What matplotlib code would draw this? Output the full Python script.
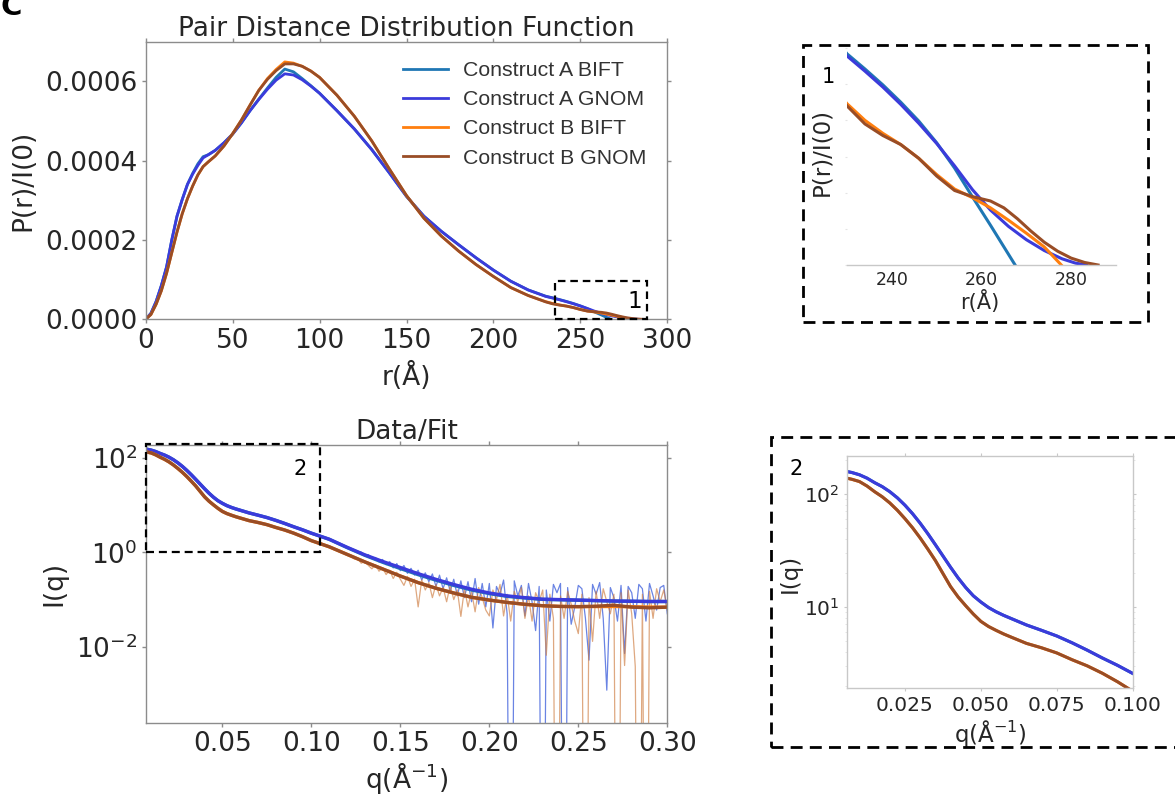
import numpy as np
import matplotlib
matplotlib.use("Agg")
import matplotlib.pyplot as plt
from matplotlib.patches import Rectangle
from matplotlib.ticker import FormatStrFormatter, NullLocator, LogLocator, NullFormatter

# ---------------- P(r) data ----------------
r_body = [0, 3, 6, 9, 12, 15, 18, 21, 24, 27, 30, 33, 36, 40, 45, 50, 55, 60, 65, 70,
          75, 80, 85, 90, 95, 100, 110, 120, 130, 140, 150, 160, 170, 180, 190, 200, 210, 220]

a_gnom_body = [0, 1.5e-5, 4.5e-5, 8.5e-5, 1.32e-4, 2.0e-4, 2.6e-4, 3.02e-4, 3.40e-4, 3.66e-4,
               3.88e-4, 4.07e-4, 4.15e-4, 4.26e-4, 4.45e-4, 4.67e-4, 4.95e-4, 5.26e-4, 5.54e-4, 5.80e-4,
               6.03e-4, 6.19e-4, 6.16e-4, 6.04e-4, 5.88e-4, 5.70e-4, 5.26e-4, 4.80e-4, 4.28e-4, 3.70e-4,
               3.10e-4, 2.60e-4, 2.22e-4, 1.88e-4, 1.55e-4, 1.24e-4, 9.6e-5, 7.4e-5]
a_bift_body = [0, 1.5e-5, 4.5e-5, 8.5e-5, 1.32e-4, 2.0e-4, 2.6e-4, 3.02e-4, 3.40e-4, 3.68e-4,
               3.92e-4, 4.10e-4, 4.15e-4, 4.26e-4, 4.45e-4, 4.67e-4, 4.95e-4, 5.26e-4, 5.55e-4, 5.83e-4,
               6.10e-4, 6.31e-4, 6.24e-4, 6.07e-4, 5.89e-4, 5.70e-4, 5.26e-4, 4.80e-4, 4.28e-4, 3.70e-4,
               3.10e-4, 2.60e-4, 2.22e-4, 1.88e-4, 1.55e-4, 1.24e-4, 9.6e-5, 7.4e-5]
b_gnom_body = [0, 1.2e-5, 3.8e-5, 7.2e-5, 1.16e-4, 1.68e-4, 2.20e-4, 2.66e-4, 3.04e-4, 3.36e-4,
               3.64e-4, 3.85e-4, 3.97e-4, 4.12e-4, 4.37e-4, 4.68e-4, 5.02e-4, 5.40e-4, 5.77e-4, 6.05e-4,
               6.27e-4, 6.44e-4, 6.44e-4, 6.38e-4, 6.26e-4, 6.10e-4, 5.65e-4, 5.12e-4, 4.50e-4, 3.80e-4,
               3.12e-4, 2.55e-4, 2.10e-4, 1.72e-4, 1.38e-4, 1.08e-4, 8.0e-5, 6.0e-5]
b_bift_body = [0, 1.2e-5, 3.8e-5, 7.2e-5, 1.16e-4, 1.68e-4, 2.20e-4, 2.66e-4, 3.04e-4, 3.36e-4,
               3.64e-4, 3.85e-4, 3.97e-4, 4.12e-4, 4.37e-4, 4.68e-4, 5.02e-4, 5.40e-4, 5.77e-4, 6.07e-4,
               6.30e-4, 6.49e-4, 6.46e-4, 6.38e-4, 6.26e-4, 6.10e-4, 5.65e-4, 5.12e-4, 4.50e-4, 3.80e-4,
               3.12e-4, 2.55e-4, 2.10e-4, 1.72e-4, 1.38e-4, 1.08e-4, 8.0e-5, 6.0e-5]

a_bift_tail_r = [230, 234, 238, 242, 246, 250, 254, 258, 262, 265, 267.5]
a_bift_tail_p = [5.84e-5, 5.42e-5, 4.98e-5, 4.50e-5, 3.98e-5, 3.38e-5, 2.68e-5, 1.88e-5, 1.10e-5,
                 5.0e-6, 0]
a_gnom_tail_r = [230, 234, 238, 242, 246, 250, 254, 258, 262, 266, 270, 274, 278, 281, 283.5]
a_gnom_tail_p = [5.78e-5, 5.36e-5, 4.92e-5, 4.44e-5, 3.92e-5, 3.36e-5, 2.74e-5, 2.08e-5, 1.52e-5,
                 1.07e-5, 7.0e-6, 4.0e-6, 1.7e-6, 5e-7, 0]
b_bift_tail_r = [230, 234, 238, 242, 246, 250, 254, 258, 262, 266, 270, 274, 277.8]
b_bift_tail_p = [4.46e-5, 4.00e-5, 3.64e-5, 3.33e-5, 2.95e-5, 2.50e-5, 2.10e-5, 1.86e-5, 1.58e-5,
                 1.24e-5, 8.8e-6, 5.0e-6, 0]
b_gnom_tail_r = [230, 234, 238, 242, 246, 250, 254, 258, 262, 265, 268, 271, 274, 277, 280, 283, 286]
b_gnom_tail_p = [4.40e-5, 3.90e-5, 3.58e-5, 3.33e-5, 2.95e-5, 2.46e-5, 2.06e-5, 1.89e-5, 1.77e-5,
                 1.58e-5, 1.28e-5, 9.4e-6, 6.3e-6, 3.8e-6, 1.9e-6, 7e-7, 0]

labels = ["Construct A BIFT", "Construct A GNOM", "Construct B BIFT", "Construct B GNOM"]

# ---------------- I(q) fits ----------------
q_fit = [0.006, 0.0075, 0.010, 0.0125, 0.015, 0.0175, 0.020, 0.0225, 0.025, 0.0275,
         0.030, 0.0325, 0.035, 0.0375, 0.040, 0.0425, 0.045, 0.0475, 0.050, 0.0525,
         0.055, 0.0575, 0.060, 0.065, 0.070, 0.075, 0.080, 0.085, 0.090, 0.095,
         0.100, 0.110, 0.120, 0.130, 0.140, 0.150, 0.160, 0.170, 0.180, 0.190,
         0.200, 0.210, 0.220, 0.230, 0.240, 0.250, 0.260, 0.270, 0.280, 0.290,
         0.300]
a_gnom_fit = [157.8, 154.9, 147.9, 138.0, 125.9, 116.1, 104.7, 92.3, 79.4, 66.8,
              55.0, 44.5, 35.5, 28.2, 22.4, 18.0, 14.8, 12.5, 11.0, 9.84,
              9.02, 8.38, 7.85, 6.89, 6.17, 5.50, 4.79, 4.12, 3.51, 3.02,
              2.56, 1.91, 1.29, 0.891, 0.646, 0.479, 0.355, 0.269, 0.209, 0.166,
              0.138, 0.120, 0.110, 0.102, 0.100, 0.0977, 0.0955, 0.0933, 0.0923, 0.0912,
              0.0912]
a_bift_fit = [157.8, 154.9, 147.9, 138.0, 125.9, 116.1, 104.7, 92.3, 79.4, 66.8,
              55.0, 44.5, 35.5, 28.2, 22.4, 18.0, 14.8, 12.5, 11.0, 9.84,
              9.02, 8.38, 7.85, 6.89, 6.17, 5.50, 4.79, 4.12, 3.51, 3.02,
              2.56, 1.90, 1.27, 0.870, 0.620, 0.455, 0.338, 0.258, 0.200, 0.160,
              0.134, 0.117, 0.108, 0.101, 0.099, 0.0970, 0.0950, 0.0930, 0.0920, 0.0910,
              0.0910]
b_gnom_fit = [137.7, 134.9, 128.8, 117.5, 104.7, 94.4, 83.2, 71.6, 60.3, 50.1,
              40.7, 32.5, 25.7, 19.7, 15.1, 12.2, 10.2, 8.61, 7.41, 6.68,
              6.17, 5.73, 5.37, 4.73, 4.32, 3.89, 3.39, 2.99, 2.57, 2.16,
              1.78, 1.32, 0.912, 0.631, 0.447, 0.316, 0.229, 0.174, 0.138, 0.112,
              0.0977, 0.0871, 0.0794, 0.0741, 0.0716, 0.0708, 0.0724, 0.0759, 0.0692, 0.0668,
              0.0692]
b_bift_fit = [137.7, 134.9, 128.8, 117.5, 104.7, 94.4, 83.2, 71.6, 60.3, 50.1,
              40.7, 32.5, 25.7, 19.7, 15.1, 12.2, 10.2, 8.61, 7.41, 6.68,
              6.17, 5.73, 5.37, 4.73, 4.32, 3.89, 3.39, 2.99, 2.57, 2.16,
              1.78, 1.32, 0.912, 0.631, 0.447, 0.316, 0.229, 0.174, 0.138, 0.112,
              0.0977, 0.0871, 0.0794, 0.0741, 0.0716, 0.0710, 0.0712, 0.0715, 0.0705, 0.0695,
              0.0690]

# ---------------- I(q) measured data ----------------
q_data = [0.100, 0.102, 0.104, 0.106, 0.108, 0.110, 0.112, 0.114, 0.116, 0.118,
          0.120, 0.122, 0.124, 0.126, 0.128, 0.130, 0.132, 0.134, 0.136, 0.138,
          0.140, 0.142, 0.144, 0.146, 0.148, 0.150, 0.152, 0.154, 0.156, 0.158,
          0.160, 0.162, 0.164, 0.166, 0.168, 0.170, 0.172, 0.174, 0.176, 0.178,
          0.180, 0.182, 0.184, 0.186, 0.188, 0.190, 0.192, 0.194, 0.196, 0.198,
          0.200, 0.202, 0.204, 0.206, 0.208, 0.210, 0.212, 0.214, 0.216, 0.218,
          0.220, 0.222, 0.224, 0.226, 0.228, 0.230, 0.232, 0.234, 0.236, 0.238,
          0.240, 0.242, 0.244, 0.246, 0.248, 0.250, 0.252, 0.254, 0.256, 0.258,
          0.260, 0.262, 0.264, 0.266, 0.268, 0.270, 0.272, 0.274, 0.276, 0.278,
          0.280, 0.282, 0.284, 0.286, 0.288, 0.290, 0.292, 0.294, 0.296, 0.298,
          0.300]
a_data = [2.58, 2.44, 2.27, 2.16, 2.02, 1.90, 1.80, 1.61, 1.56, 1.37,
          1.33, 1.16, 1.15, 0.98, 1.02, 0.84, 0.90, 0.74, 0.78, 0.63,
          0.71, 0.55, 0.64, 0.47, 0.58, 0.41, 0.53, 0.36, 0.46, 0.33,
          0.42, 0.26, 0.37, 0.24, 0.35, 0.19, 0.33, 0.17, 0.29, 0.15,
          0.27, 0.12, 0.25, 0.11, 0.24, 0.09, 0.28, 0.08, 0.22, 0.07,
          0.22, 0.025, 0.19, 0.13, 0.26, 0.05, 1e-12, 0.25, 0.12, 0.20,
          0.045, 0.22, 0.09, 0.022, 0.19, 1e-12, 0.16, 0.035, 0.21, 0.14,
          0.22, 1e-12, 0.18, 0.03, 0.07, 0.20, 0.17, 0.04, 0.0052, 0.21,
          0.13, 0.23, 0.04, 0.0012, 0.18, 0.11, 0.035, 0.20, 0.0072, 0.19,
          0.14, 0.04, 0.21, 0.17, 0.035, 0.22, 0.12, 0.06, 0.18, 0.20,
          0.05]
b_data = [1.76, 1.70, 1.55, 1.53, 1.38, 1.34, 1.20, 1.18, 1.02, 1.00,
          0.87, 0.89, 0.73, 0.75, 0.59, 0.65, 0.53, 0.45, 0.55, 0.40,
          0.47, 0.34, 0.42, 0.28, 0.38, 0.27, 0.20, 0.31, 0.19, 0.27,
          0.07, 0.26, 0.16, 0.23, 0.11, 0.21, 0.12, 0.18, 0.09, 0.20,
          0.10, 0.16, 0.044, 0.17, 0.07, 0.15, 0.055, 0.18, 0.11, 0.06,
          0.045, 0.16, 0.10, 0.21, 0.045, 0.13, 0.035, 0.15, 0.09, 0.18,
          0.04, 0.12, 0.035, 0.14, 0.09, 0.16, 0.0066, 0.13, 0.04, 1e-12,
          0.12, 0.04, 0.15, 0.08, 0.035, 0.019, 0.13, 1e-12, 0.11, 0.013,
          0.15, 0.04, 0.17, 0.09, 0.05, 0.13, 1e-12, 0.14, 0.004, 0.16,
          0.05, 0.0038, 1e-12, 0.13, 1e-12, 0.15, 0.04, 0.17, 0.09, 0.16,
          0.06]

# ---------------- styling ----------------
C_A_BIFT = "#1f77b4"
C_A_GNOM = "#3b3bdb"
C_B_BIFT = "#ff7f0e"
C_B_GNOM = "#994d26"
C_A_DATA = "#4565dd"
C_B_DATA = "#cd7a3d"
TXT = "#262626"
SPINE = "#8c8c8c"
LIGHT = "#c8c8c8"

W, H = 1175, 796
fig = plt.figure(figsize=(W / 100, H / 100), dpi=100)


def px_rect(left, top, right, bottom):
    return [left / W, 1 - bottom / H, (right - left) / W, (bottom - top) / H]


pr_curves = [
    (labels[0], C_A_BIFT, np.concatenate([r_body, a_bift_tail_r]), np.concatenate([a_bift_body, a_bift_tail_p])),
    (labels[1], C_A_GNOM, np.concatenate([r_body, a_gnom_tail_r]), np.concatenate([a_gnom_body, a_gnom_tail_p])),
    (labels[2], C_B_BIFT, np.concatenate([r_body, b_bift_tail_r]), np.concatenate([b_bift_body, b_bift_tail_p])),
    (labels[3], C_B_GNOM, np.concatenate([r_body, b_gnom_tail_r]), np.concatenate([b_gnom_body, b_gnom_tail_p])),
]


def style_main(ax):
    for s in ax.spines.values():
        s.set_color(SPINE)
        s.set_linewidth(1.0)
    ax.tick_params(which="both", direction="out", length=3.2, width=1.0, color=SPINE,
                   labelcolor=TXT, labelsize=19, top=True, right=True, pad=2.8)


def draw_iq(ax, lw):
    ax.plot(q_data, a_data, color=C_A_DATA, lw=0.9, alpha=0.8)
    ax.plot(q_data, b_data, color=C_B_DATA, lw=0.9, alpha=0.65)
    ax.plot(q_fit, a_bift_fit, color=C_A_BIFT, lw=lw)
    ax.plot(q_fit, a_gnom_fit, color=C_A_GNOM, lw=lw)
    ax.plot(q_fit, b_bift_fit, color=C_B_BIFT, lw=lw)
    ax.plot(q_fit, b_gnom_fit, color=C_B_GNOM, lw=lw)
    ax.set_yscale("log")


# ---- Pair distance distribution ----
ax1 = fig.add_axes(px_rect(145.7, 41.7, 667.3, 319.3))
for lab, col, rr, pp in pr_curves:
    ax1.plot(rr, pp, color=col, lw=2.0, label=lab)
ax1.set_xlim(0, 300)
ax1.set_ylim(0, 0.0007)
ax1.set_xticks([0, 50, 100, 150, 200, 250, 300])
ax1.set_yticks([0, 0.0002, 0.0004, 0.0006])
ax1.yaxis.set_major_formatter(FormatStrFormatter("%.4f"))
style_main(ax1)
ax1.set_title("Pair Distance Distribution Function", fontsize=19, color=TXT, pad=3.5)
ax1.set_xlabel("r(Å)", fontsize=19, color=TXT)
ax1.xaxis.set_label_coords(0.5, -0.155)
ax1.set_ylabel("P(r)/I(0)", fontsize=19, color=TXT)
ax1.yaxis.set_label_coords(-0.21, 0.5)
ax1.legend(loc="upper left", bbox_to_anchor=(403 / W, 1 - 61 / H), bbox_transform=fig.transFigure,
           frameon=False, prop={"family": "Liberation Sans", "size": 15.3}, labelcolor="#333333",
           handlelength=2.12, handletextpad=0.72, labelspacing=0.48, borderpad=0, borderaxespad=0)
ax1.add_patch(Rectangle((235.5, 0), 52.9, 9.7e-5, fill=False, ec="black", lw=1.6,
                        ls=(0, (3.4, 2.2)), clip_on=False, zorder=5))
fig.text(635 / W, 1 - 301.7 / H, "1", fontsize=16.5, color="black", ha="center", va="center")

# ---- Data / Fit ----
ax2 = fig.add_axes(px_rect(145.7, 445, 667.3, 722.7))
draw_iq(ax2, 2.4)
ax2.set_xlim(0.0069, 0.30)
ax2.set_ylim(2.45e-4, 190)
ax2.set_xticks([0.05, 0.10, 0.15, 0.20, 0.25, 0.30])
ax2.xaxis.set_major_formatter(FormatStrFormatter("%.2f"))
ax2.set_yticks([1e-2, 1, 1e2])
ax2.yaxis.set_minor_locator(NullLocator())
style_main(ax2)
ax2.set_title("Data/Fit", fontsize=19, color=TXT, pad=4)
ax2.set_xlabel(r"q(Å$^{-1}$)", fontsize=19, color=TXT)
ax2.xaxis.set_label_coords(0.5, -0.134)
ax2.set_ylabel("I(q)", fontsize=19, color=TXT)
ax2.yaxis.set_label_coords(-0.151, 0.5)
ax2.add_patch(Rectangle((0.0069, 1.0), 0.105 - 0.0069, 200 - 1.0, fill=False, ec="black", lw=1.6,
                        ls=(0, (3.6, 2.2)), clip_on=False, zorder=5))
fig.text(300 / W, 1 - 469 / H, "2", fontsize=15, color="black", ha="center", va="center")

# ---- Zoom 1: P(r) tail ----
ax3 = fig.add_axes(px_rect(847, 48, 1116, 265))
for lab, col, rr, pp in pr_curves:
    ax3.plot(rr, pp, color=col, lw=2.2)
ax3.set_xlim(230, 290)
ax3.set_ylim(0, 6e-5)
ax3.set_xticks([240, 260, 280])
ax3.set_yticks([0, 1e-5, 2e-5, 3e-5, 4e-5, 5e-5, 6e-5])
ax3.set_yticklabels([])
for side in ("top", "right", "left"):
    ax3.spines[side].set_visible(False)
ax3.spines["bottom"].set_color(LIGHT)
ax3.spines["bottom"].set_linewidth(1.0)
ax3.tick_params(axis="x", length=0, labelsize=12.5, labelcolor=TXT, pad=4)
ax3.tick_params(axis="y", length=1.5, color="#e4e4e4", pad=1)
ax3.set_xlabel("r(Å)", fontsize=15, color=TXT)
ax3.xaxis.set_label_coords(0.494, -0.115)
ax3.set_ylabel("P(r)/I(0)", fontsize=16.5, color=TXT)
ax3.yaxis.set_label_coords(-0.05, 0.52)
fig.text(828 / W, 1 - 76.7 / H, "1", fontsize=15, color="black", ha="center", va="center")

# ---- Zoom 2: low-q I(q) ----
ax4 = fig.add_axes(px_rect(847.3, 456, 1132.7, 688.3))
draw_iq(ax4, 2.2)
ax4.set_xlim(0.006, 0.100)
ax4.set_ylim(1.89, 217)
ax4.set_xticks([0.025, 0.050, 0.075, 0.100])
ax4.xaxis.set_major_formatter(FormatStrFormatter("%.3f"))
ax4.yaxis.set_major_locator(LogLocator(base=10, numticks=5))
ax4.yaxis.set_minor_formatter(NullFormatter())
for s in ax4.spines.values():
    s.set_color(LIGHT)
    s.set_linewidth(1.0)
ax4.tick_params(which="both", direction="out", color=LIGHT, labelcolor=TXT, labelsize=14.5,
                top=True, right=True, pad=3)
ax4.tick_params(which="major", length=2.5)
ax4.tick_params(which="minor", length=1.5, color="#e0e0e0")
ax4.set_xlabel(r"q(Å$^{-1}$)", fontsize=16.5, color=TXT)
ax4.xaxis.set_label_coords(0.5, -0.129)
ax4.set_ylabel("I(q)", fontsize=16.5, color=TXT)
ax4.yaxis.set_label_coords(-0.16, 0.495)
fig.text(796 / W, 1 - 469.3 / H, "2", fontsize=15, color="black", ha="center", va="center")

# ---- dashed frames around the zoom panels ----
for (l, t, r, b) in [(803, 45, 1148, 322), (771, 437, 1190, 747)]:
    fig.patches.append(Rectangle((l / W, 1 - b / H), (r - l) / W, (b - t) / H, fill=False,
                                 ec="black", lw=2.0, ls=(0, (4.3, 2.6)),
                                 transform=fig.transFigure, figure=fig))

# panel letter
fig.text(0.0, 1 - 15 / H, "C", fontsize=21, fontweight="bold", color="black",
         ha="left", va="baseline")

fig.savefig("out.png", dpi=100)
